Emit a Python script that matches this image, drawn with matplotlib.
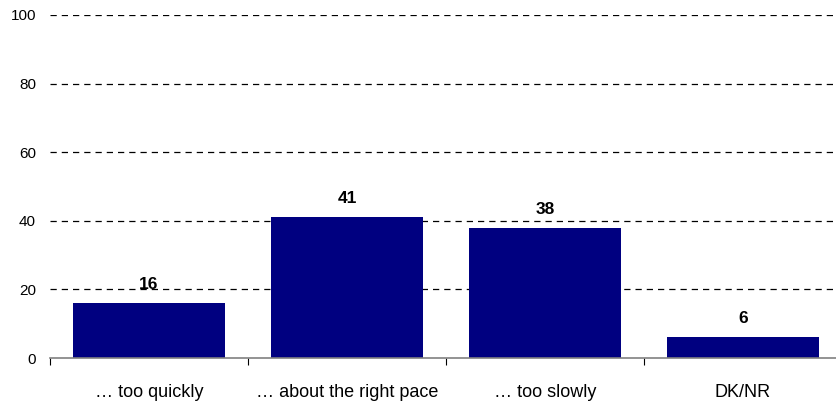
import numpy as np
import matplotlib.pyplot as plt

plt.rcParams["font.family"] = ["Liberation Sans", "DejaVu Sans"]

categories = ["… too quickly", "… about the right pace", "… too slowly", "DK/NR"]
values = [16, 41, 38, 6]
yticks = [0, 20, 40, 60, 80, 100]

fig = plt.figure(figsize=(8.36, 4.08), dpi=100)
ax = fig.add_axes([50 / 836, 50 / 408, 792 / 836, 343 / 408])

x = np.arange(len(categories))
bars = ax.bar(x, values, width=0.77, color="#000080", zorder=2)

for xi, v in zip(x, values):
    ax.annotate(str(v), (xi, v), xytext=(0, 8), textcoords="offset points",
                ha="center", va="bottom", fontsize=12.5, fontweight="bold")

ax.set_xlim(-0.5, len(categories) - 0.5)
ax.set_ylim(0, 100)

ax.set_yticks(yticks)
ax.tick_params(axis="y", length=0, pad=10, labelsize=11)
for y in yticks[1:]:
    ax.axhline(y, color="black", lw=0.9, ls=(0, (5, 4)), zorder=1)

ax.set_xticks(np.arange(len(categories) + 1) - 0.5)
ax.set_xticklabels([])
ax.set_xticks(x, minor=True)
ax.set_xticklabels(categories, minor=True)
ax.tick_params(axis="x", which="major", length=5, direction="out", color="black")
ax.tick_params(axis="x", which="minor", length=0, pad=19, labelsize=13)

for s in ["top", "right", "left"]:
    ax.spines[s].set_visible(False)
ax.spines["bottom"].set_color("#808080")
ax.spines["bottom"].set_linewidth(1.2)

fig.savefig("out.png", dpi=100)
